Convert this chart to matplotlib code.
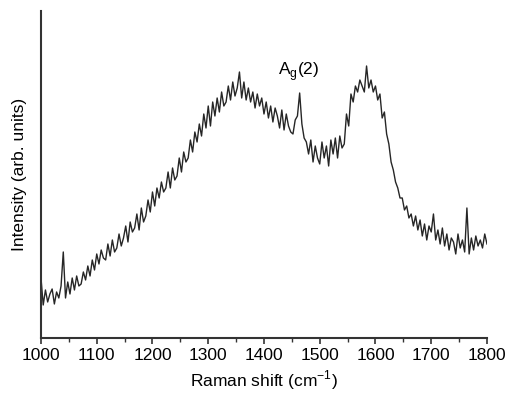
import numpy as np
import matplotlib.pyplot as plt

plt.rcParams['font.family'] = ['Liberation Sans', 'DejaVu Sans']

# Raman shift, 4 cm-1 step
shift = np.arange(1000, 1801, 4)

# intensity (arb. units), 25 points per 100 cm-1
intensity = [
    60, 33, 48, 36, 44, 49, 34, 46, 40, 52, 86, 40, 56, 44, 60, 48, 62, 52, 54, 66, 58, 72, 62, 78, 68,
    84, 74, 88, 80, 78, 94, 82, 98, 86, 90, 104, 92, 100, 112, 96, 116, 106, 110, 124, 108, 130, 116, 122, 138, 126,
    146, 132, 150, 140, 156, 146, 150, 166, 150, 170, 158, 162, 180, 166, 186, 176, 180, 198, 186, 206, 196, 214, 202, 224, 210,
    232, 212, 236, 222, 240, 226, 246, 232, 236, 252, 238, 256, 242, 250, 266, 240, 256, 238, 250, 236, 246, 230, 244, 232, 240,
    224, 236, 220, 232, 216, 230, 222, 210, 228, 208, 224, 212, 206, 204, 218, 222, 245, 214, 200, 196, 184, 198, 176, 192, 180,
    174, 196, 180, 192, 172, 198, 184, 200, 180, 202, 190, 194, 224, 212, 244, 236, 252, 246, 258, 252, 246, 272, 250, 258, 246,
    252, 238, 244, 220, 226, 204, 194, 176, 168, 156, 150, 140, 140, 128, 132, 120, 124, 112, 122, 108, 118, 102, 114, 98, 112,
    106, 124, 98, 108, 94, 110, 92, 104, 88, 100, 96, 84, 104, 90, 98, 86, 130, 84, 100, 88, 102, 92, 98, 90, 104,
    94,
]

xticks = [1000, 1100, 1200, 1300, 1400, 1500, 1600, 1700, 1800]

fig = plt.figure(figsize=(5.06, 3.93), dpi=100)
ax = fig.add_axes([0.081, 0.14, 0.8814, 0.832])

ax.plot(shift, intensity, color='#262626', lw=1.0)

ax.set_xlim(1000, 1800)
ax.set_ylim(0, 327)
ax.set_xticks(xticks)
ax.set_xticks(np.arange(1050, 1800, 100), minor=True)
ax.set_yticks([])
ax.tick_params(axis='x', which='major', direction='out', length=4, width=1.2,
               labelsize=12.5, pad=3, color='#333333')
ax.tick_params(axis='x', which='minor', direction='out', length=3, width=1.0,
               color='#333333')

for side in ['top', 'right']:
    ax.spines[side].set_visible(False)
for side in ['left', 'bottom']:
    ax.spines[side].set_linewidth(1.5)
    ax.spines[side].set_color('#333333')

ax.set_xlabel('Raman shift (cm$^{\\mathregular{-1}}$)', fontsize=12.5, labelpad=4)
ax.set_ylabel('Intensity (arb. units)', fontsize=12.5, labelpad=10)

ax.text(1463, 263, 'A$_{\\mathregular{g}}$(2)', fontsize=12.5, ha='center', va='baseline')

fig.savefig('out.png', dpi=100)
